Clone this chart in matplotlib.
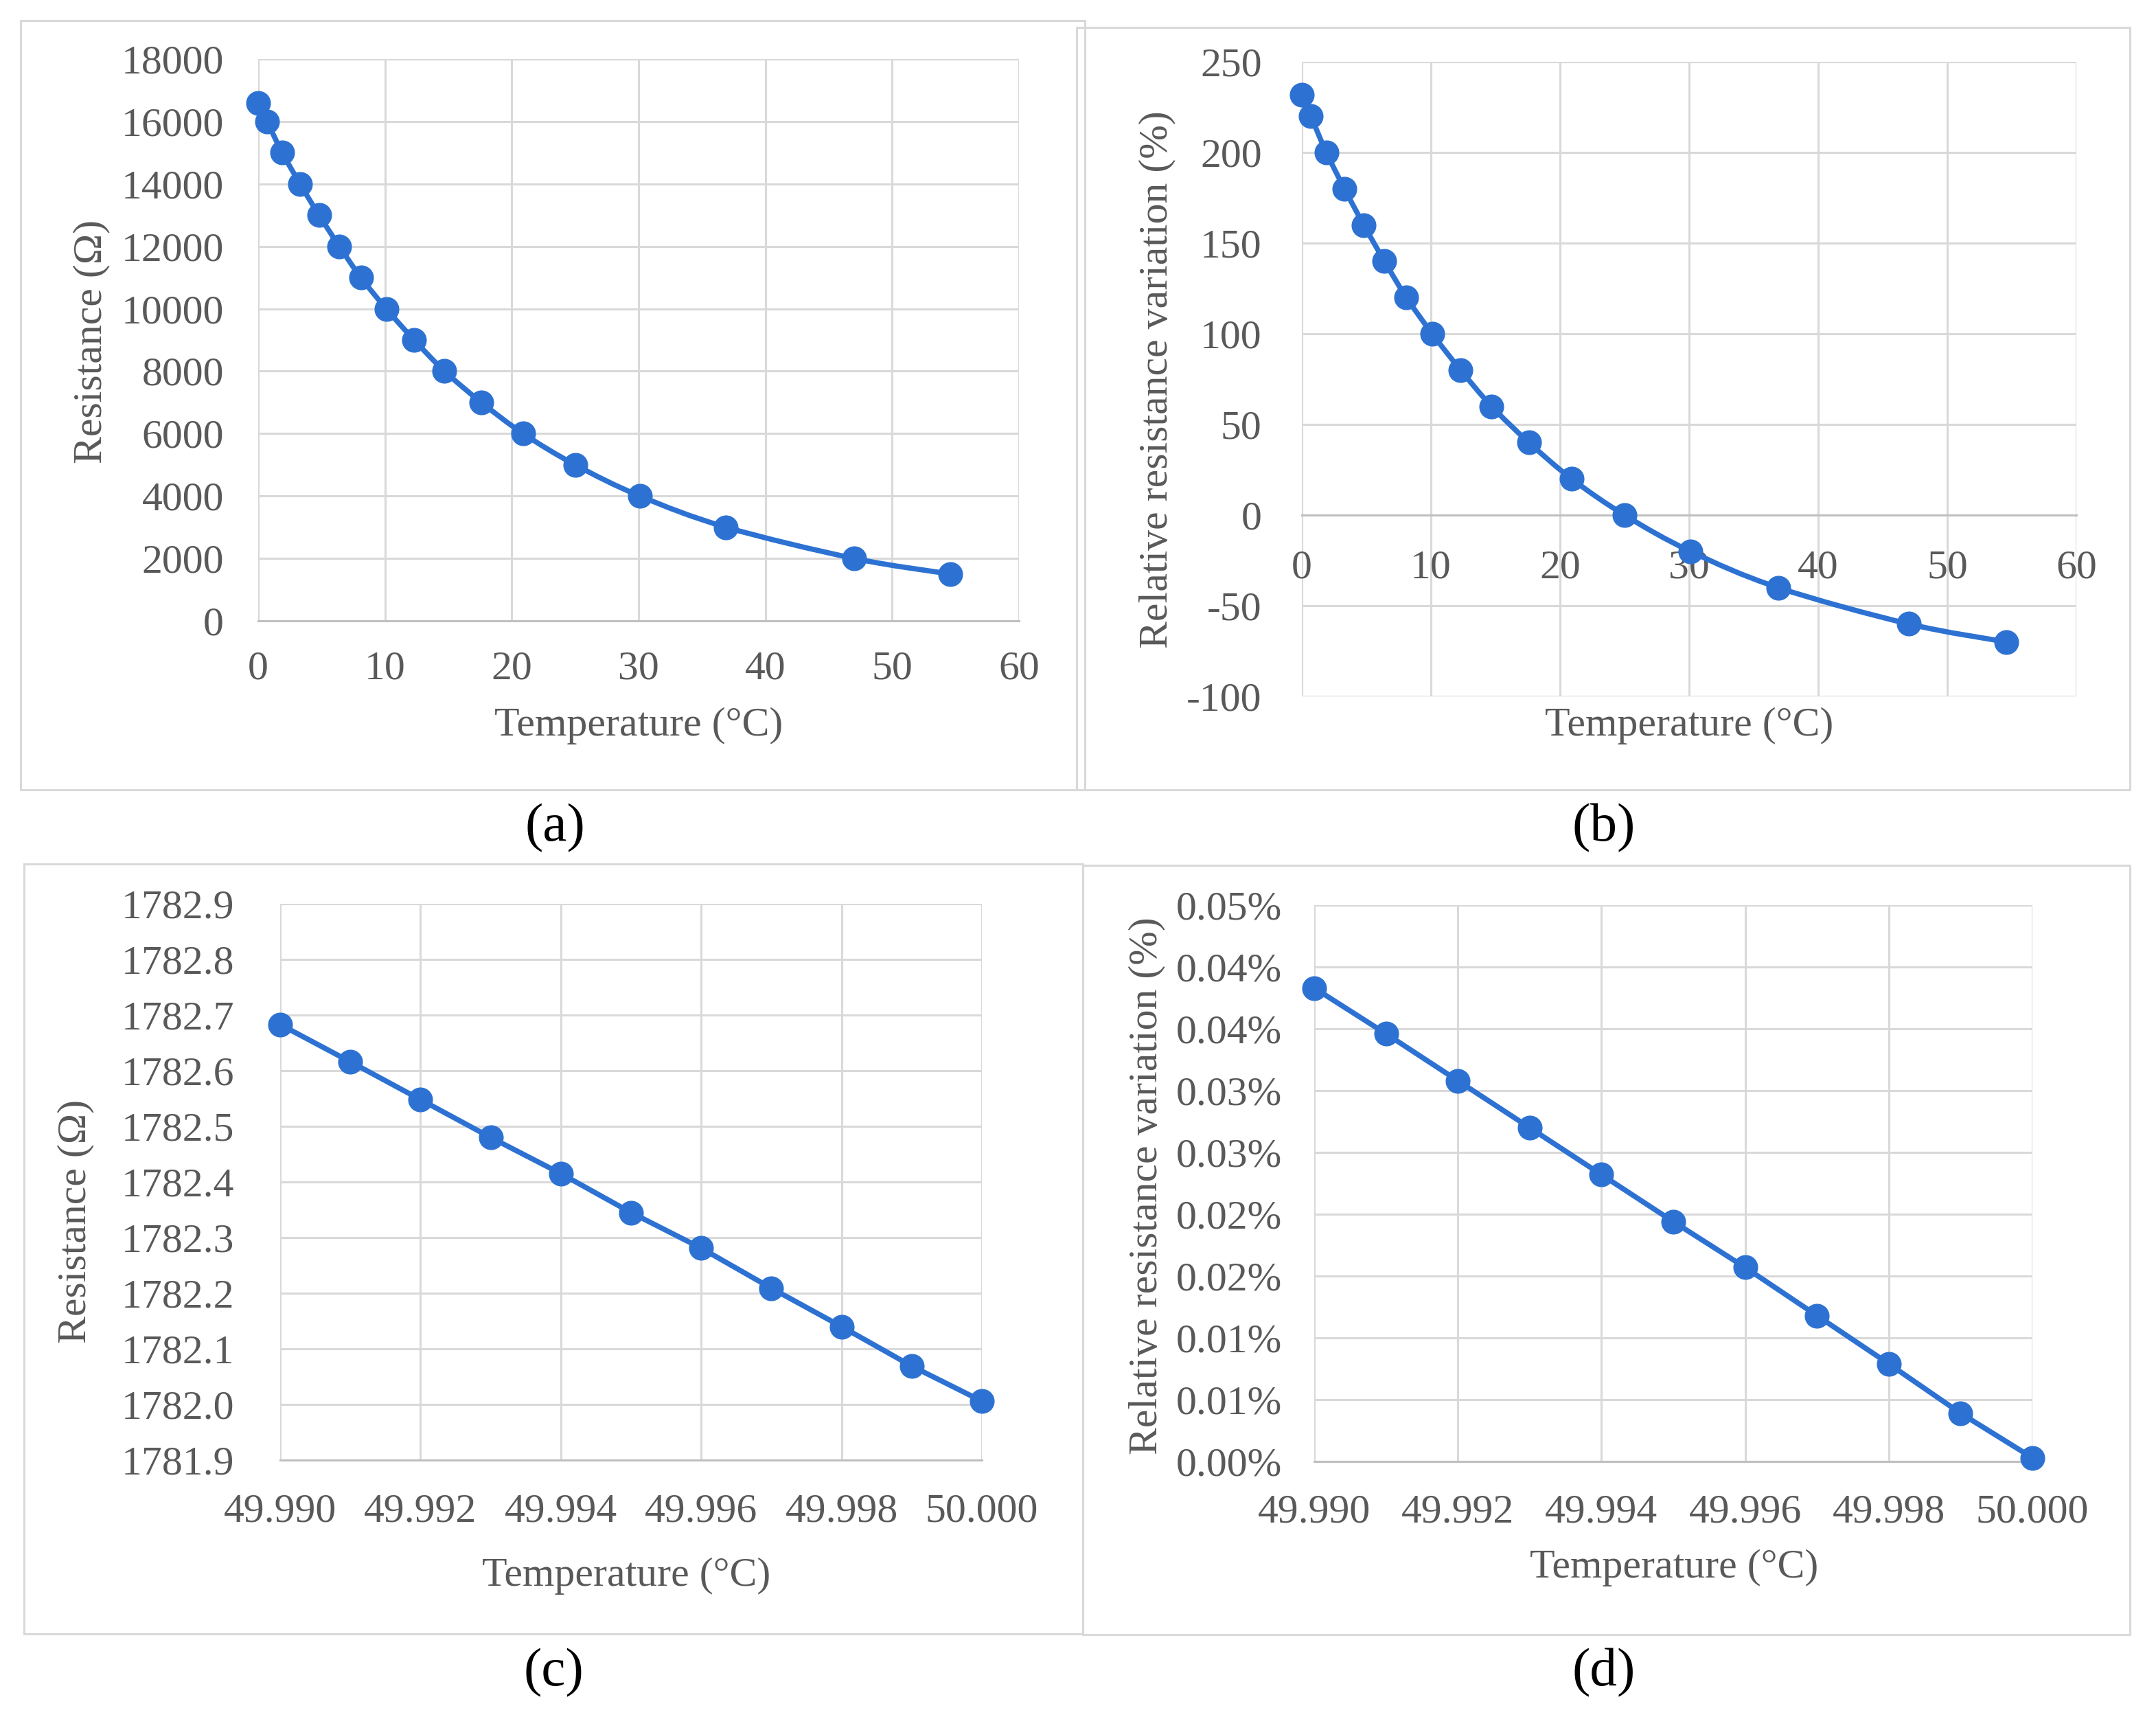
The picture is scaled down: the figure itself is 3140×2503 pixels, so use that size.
import matplotlib
matplotlib.use("Agg")
import matplotlib.pyplot as plt
from matplotlib.path import Path
from matplotlib.patches import PathPatch, Rectangle
from matplotlib.ticker import FuncFormatter, MultipleLocator
from decimal import Decimal, ROUND_HALF_UP

# data
temp_wide = [0.0, 0.7, 1.9, 3.3, 4.8, 6.4, 8.1, 10.1, 12.3, 14.7, 17.6, 20.9,
             25.0, 30.1, 36.9, 47.0, 54.6]
res_wide = [16600, 16000, 15000, 14000, 13000, 12000, 11000, 10000, 9000,
            8000, 7000, 6000, 5000, 4000, 3000, 2000, 1500]
rel_wide = [232, 220, 200, 180, 160, 140, 120, 100, 80, 60, 40, 20, 0,
            -20, -40, -60, -70]

temp_fine = [49.990, 49.991, 49.992, 49.993, 49.994, 49.995, 49.996, 49.997,
             49.998, 49.999, 50.000]
res_fine = [1782.683, 1782.616, 1782.548, 1782.480, 1782.415, 1782.345,
            1782.281, 1782.209, 1782.140, 1782.069, 1782.006]
rel_fine = [0.0383, 0.0346, 0.0308, 0.0270, 0.0232, 0.0194, 0.0157, 0.0118,
            0.0079, 0.0039, 0.0003]

BLUE = "#2D72D2"
GREY_TXT = "#595959"
GRID = "#d9d9d9"
W, H = 3140, 2503
MS = 25
LW = 5.5

plt.rcParams["font.family"] = ["Liberation Serif", "DejaVu Serif"]
plt.rcParams["axes.unicode_minus"] = False
fig = plt.figure(figsize=(W / 100, H / 100), dpi=100)


def px_axes(l, t, r, b):
    return fig.add_axes([l / W, 1 - b / H, (r - l) / W, (b - t) / H])


def smooth_line(ax, x, y):
    # excel style smoothed line (bezier through the points)
    n = len(x)
    verts = [(x[0], y[0])]
    codes = [Path.MOVETO]
    for i in range(n - 1):
        x0, y0 = (x[i - 1], y[i - 1]) if i > 0 else (x[i], y[i])
        x3, y3 = (x[i + 2], y[i + 2]) if i + 2 < n else (x[i + 1], y[i + 1])
        c1 = (x[i] + (x[i + 1] - x0) / 6, y[i] + (y[i + 1] - y0) / 6)
        c2 = (x[i + 1] - (x3 - x[i]) / 6, y[i + 1] - (y3 - y[i]) / 6)
        verts += [c1, c2, (x[i + 1], y[i + 1])]
        codes += [Path.CURVE4] * 3
    ax.add_patch(PathPatch(Path(verts, codes), fill=False, edgecolor=BLUE,
                           lw=LW, zorder=3, capstyle="round", clip_on=False))


def style(ax, xpad, ypad):
    ax.grid(True, color=GRID, lw=2.2)
    ax.set_axisbelow(True)
    for s in ax.spines.values():
        s.set_visible(False)
    ax.spines["bottom"].set_visible(True)
    ax.spines["bottom"].set_color("#bfbfbf")
    ax.spines["bottom"].set_linewidth(2.2)
    ax.tick_params(length=0, labelsize=43, colors=GREY_TXT)
    ax.tick_params(axis="x", pad=xpad)
    ax.tick_params(axis="y", pad=ypad)


def half_up(v, nd):
    q = Decimal(1).scaleb(-nd)
    return str(Decimal(str(round(float(v), 8))).quantize(q, rounding=ROUND_HALF_UP))


# (a)
ax = px_axes(376, 86, 1484, 904)
style(ax, 31, 36)
smooth_line(ax, temp_wide, res_wide)
ax.plot(temp_wide, res_wide, "o", color=BLUE, ms=MS, zorder=4, clip_on=False)
ax.set_xlim(0, 60)
ax.set_ylim(0, 18000)
ax.xaxis.set_major_locator(MultipleLocator(10))
ax.yaxis.set_major_locator(MultipleLocator(2000))

# (b)
ax = px_axes(1896, 90, 3024, 1014)
style(ax, 36, 42)
smooth_line(ax, temp_wide, rel_wide)
ax.plot(temp_wide, rel_wide, "o", color=BLUE, ms=MS, zorder=4, clip_on=False)
ax.set_xlim(0, 60)
ax.set_ylim(-100, 250)
ax.xaxis.set_major_locator(MultipleLocator(10))
ax.yaxis.set_major_locator(MultipleLocator(50))
ax.spines["bottom"].set_position(("data", 0))

# (c)
ax = px_axes(408, 1316, 1430, 2126)
style(ax, 35, 48)
ax.plot(temp_fine, res_fine, "-o", color=BLUE, ms=MS, lw=LW, zorder=4,
        clip_on=False)
ax.set_xlim(49.990, 50.000)
ax.set_ylim(1781.9, 1782.9)
ax.set_xticks([49.990, 49.992, 49.994, 49.996, 49.998, 50.000])
ax.yaxis.set_major_locator(MultipleLocator(0.1))
ax.xaxis.set_major_formatter(FuncFormatter(lambda v, p: "%.3f" % v))
ax.yaxis.set_major_formatter(FuncFormatter(lambda v, p: "%.1f" % v))

# (d)
ax = px_axes(1914, 1318, 2960, 2128)
style(ax, 34, 34)
ax.plot(temp_fine, rel_fine, "-o", color=BLUE, ms=MS, lw=LW, zorder=4,
        clip_on=False)
ax.set_xlim(49.990, 50.000)
ax.set_ylim(0, 0.045)
ax.set_xticks([49.990, 49.992, 49.994, 49.996, 49.998, 50.000])
ax.yaxis.set_major_locator(MultipleLocator(0.005))
ax.xaxis.set_major_formatter(FuncFormatter(lambda v, p: "%.3f" % v))
ax.yaxis.set_major_formatter(FuncFormatter(lambda v, p: half_up(v, 2) + "%"))


def ftext(x, y, s, **kw):
    fig.text(x / W, 1 - y / H, s, ha="center", va="center", **kw)


lab = dict(fontsize=43, color=GREY_TXT)
ftext(930, 1057, "Temperature (°C)", **lab)
ftext(2460, 1057, "Temperature (°C)", **lab)
ftext(912, 2295, "Temperature (°C)", **lab)
ftext(2438, 2283, "Temperature (°C)", **lab)
ftext(133, 497, "Resistance (Ω)", rotation=90, **lab)
ftext(1685, 553, "Relative resistance variation (%)", rotation=90, **lab)
ftext(110, 1778, "Resistance (Ω)", rotation=90, **lab)
ftext(1670, 1727, "Relative resistance variation (%)", rotation=90, **lab)

pan = dict(fontsize=57, color="black")
ftext(808, 1206, "(a)", **pan)
ftext(2336, 1206, "(b)", **pan)
ftext(806, 2436, "(c)", **pan)
ftext(2336, 2436, "(d)", **pan)

# panel frames
for l, t, r, b in [(30, 30, 1580, 1150), (1568, 40, 3102, 1150),
                   (35, 1258, 1577, 2379), (1577, 1260, 3102, 2380)]:
    fig.add_artist(Rectangle((l / W, 1 - b / H), (r - l) / W, (b - t) / H,
                             transform=fig.transFigure, fill=False,
                             edgecolor=GRID, lw=2.2))

fig.savefig("out.png", dpi=100, facecolor="white")
